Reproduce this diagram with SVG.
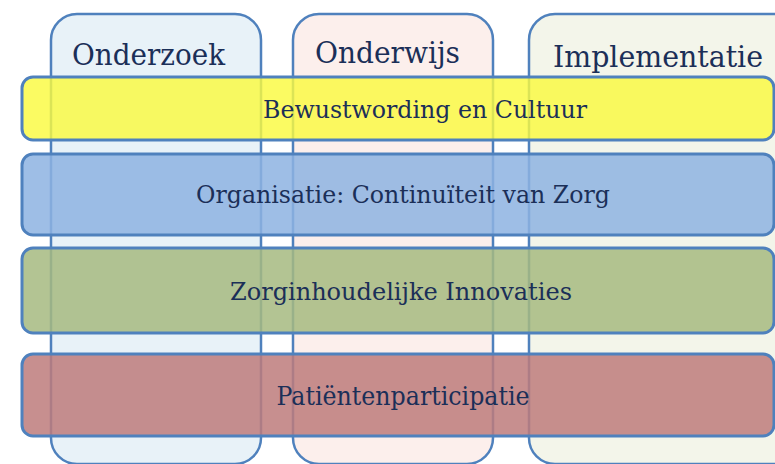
<svg xmlns="http://www.w3.org/2000/svg" width="775" height="464" viewBox="0 0 775 464">
<style>
.col{stroke:#4f81bd;stroke-width:2.5}
.row{stroke:#4f81bd;stroke-width:3}
.t{font-family:"DejaVu Serif","Liberation Serif",serif;fill:#1b2f58}
.h{font-size:30px}
.r{font-size:24px;text-anchor:middle}
</style>
<rect width="775" height="464" fill="#ffffff"/>
<g id="col-onderzoek">
<rect class="col" x="51" y="14" width="210" height="450" rx="26" fill="#e8f2f8"/>
<text class="t h" x="72" y="65" textLength="153" lengthAdjust="spacingAndGlyphs">Onderzoek</text>
</g>
<g id="col-onderwijs">
<rect class="col" x="293" y="14" width="200" height="450" rx="26" fill="#fcefec"/>
<text class="t h" x="315" y="63" textLength="145" lengthAdjust="spacingAndGlyphs">Onderwijs</text>
</g>
<g id="col-implementatie">
<rect class="col" x="529" y="14" width="270" height="450" rx="26" fill="#f3f5ea"/>
<text class="t h" x="553" y="67" textLength="210" lengthAdjust="spacingAndGlyphs">Implementatie</text>
</g>
<g id="row-bewustwording">
<rect class="row" x="22" y="77" width="752" height="63" rx="11" fill="#fafa40" fill-opacity="0.82"/>
<text class="t r" x="425" y="118" textLength="324" lengthAdjust="spacingAndGlyphs">Bewustwording en Cultuur</text>
</g>
<g id="row-organisatie">
<rect class="row" x="22" y="154" width="752" height="81" rx="11" fill="#8db3e2" fill-opacity="0.85"/>
<text class="t r" x="403" y="203" textLength="414" lengthAdjust="spacingAndGlyphs">Organisatie: Continuïteit van Zorg</text>
</g>
<g id="row-zorg">
<rect class="row" x="22" y="248" width="752" height="85" rx="11" fill="#a6ba80" fill-opacity="0.85"/>
<text class="t r" x="401" y="300" textLength="342" lengthAdjust="spacingAndGlyphs">Zorginhoudelijke Innovaties</text>
</g>
<g id="row-patient">
<rect class="row" x="22" y="354" width="752" height="82" rx="11" fill="#bd7b7b" fill-opacity="0.85"/>
<text class="t r" x="403" y="405" style="font-size:26px" textLength="253" lengthAdjust="spacingAndGlyphs">Patiëntenparticipatie</text>
</g>
</svg>
